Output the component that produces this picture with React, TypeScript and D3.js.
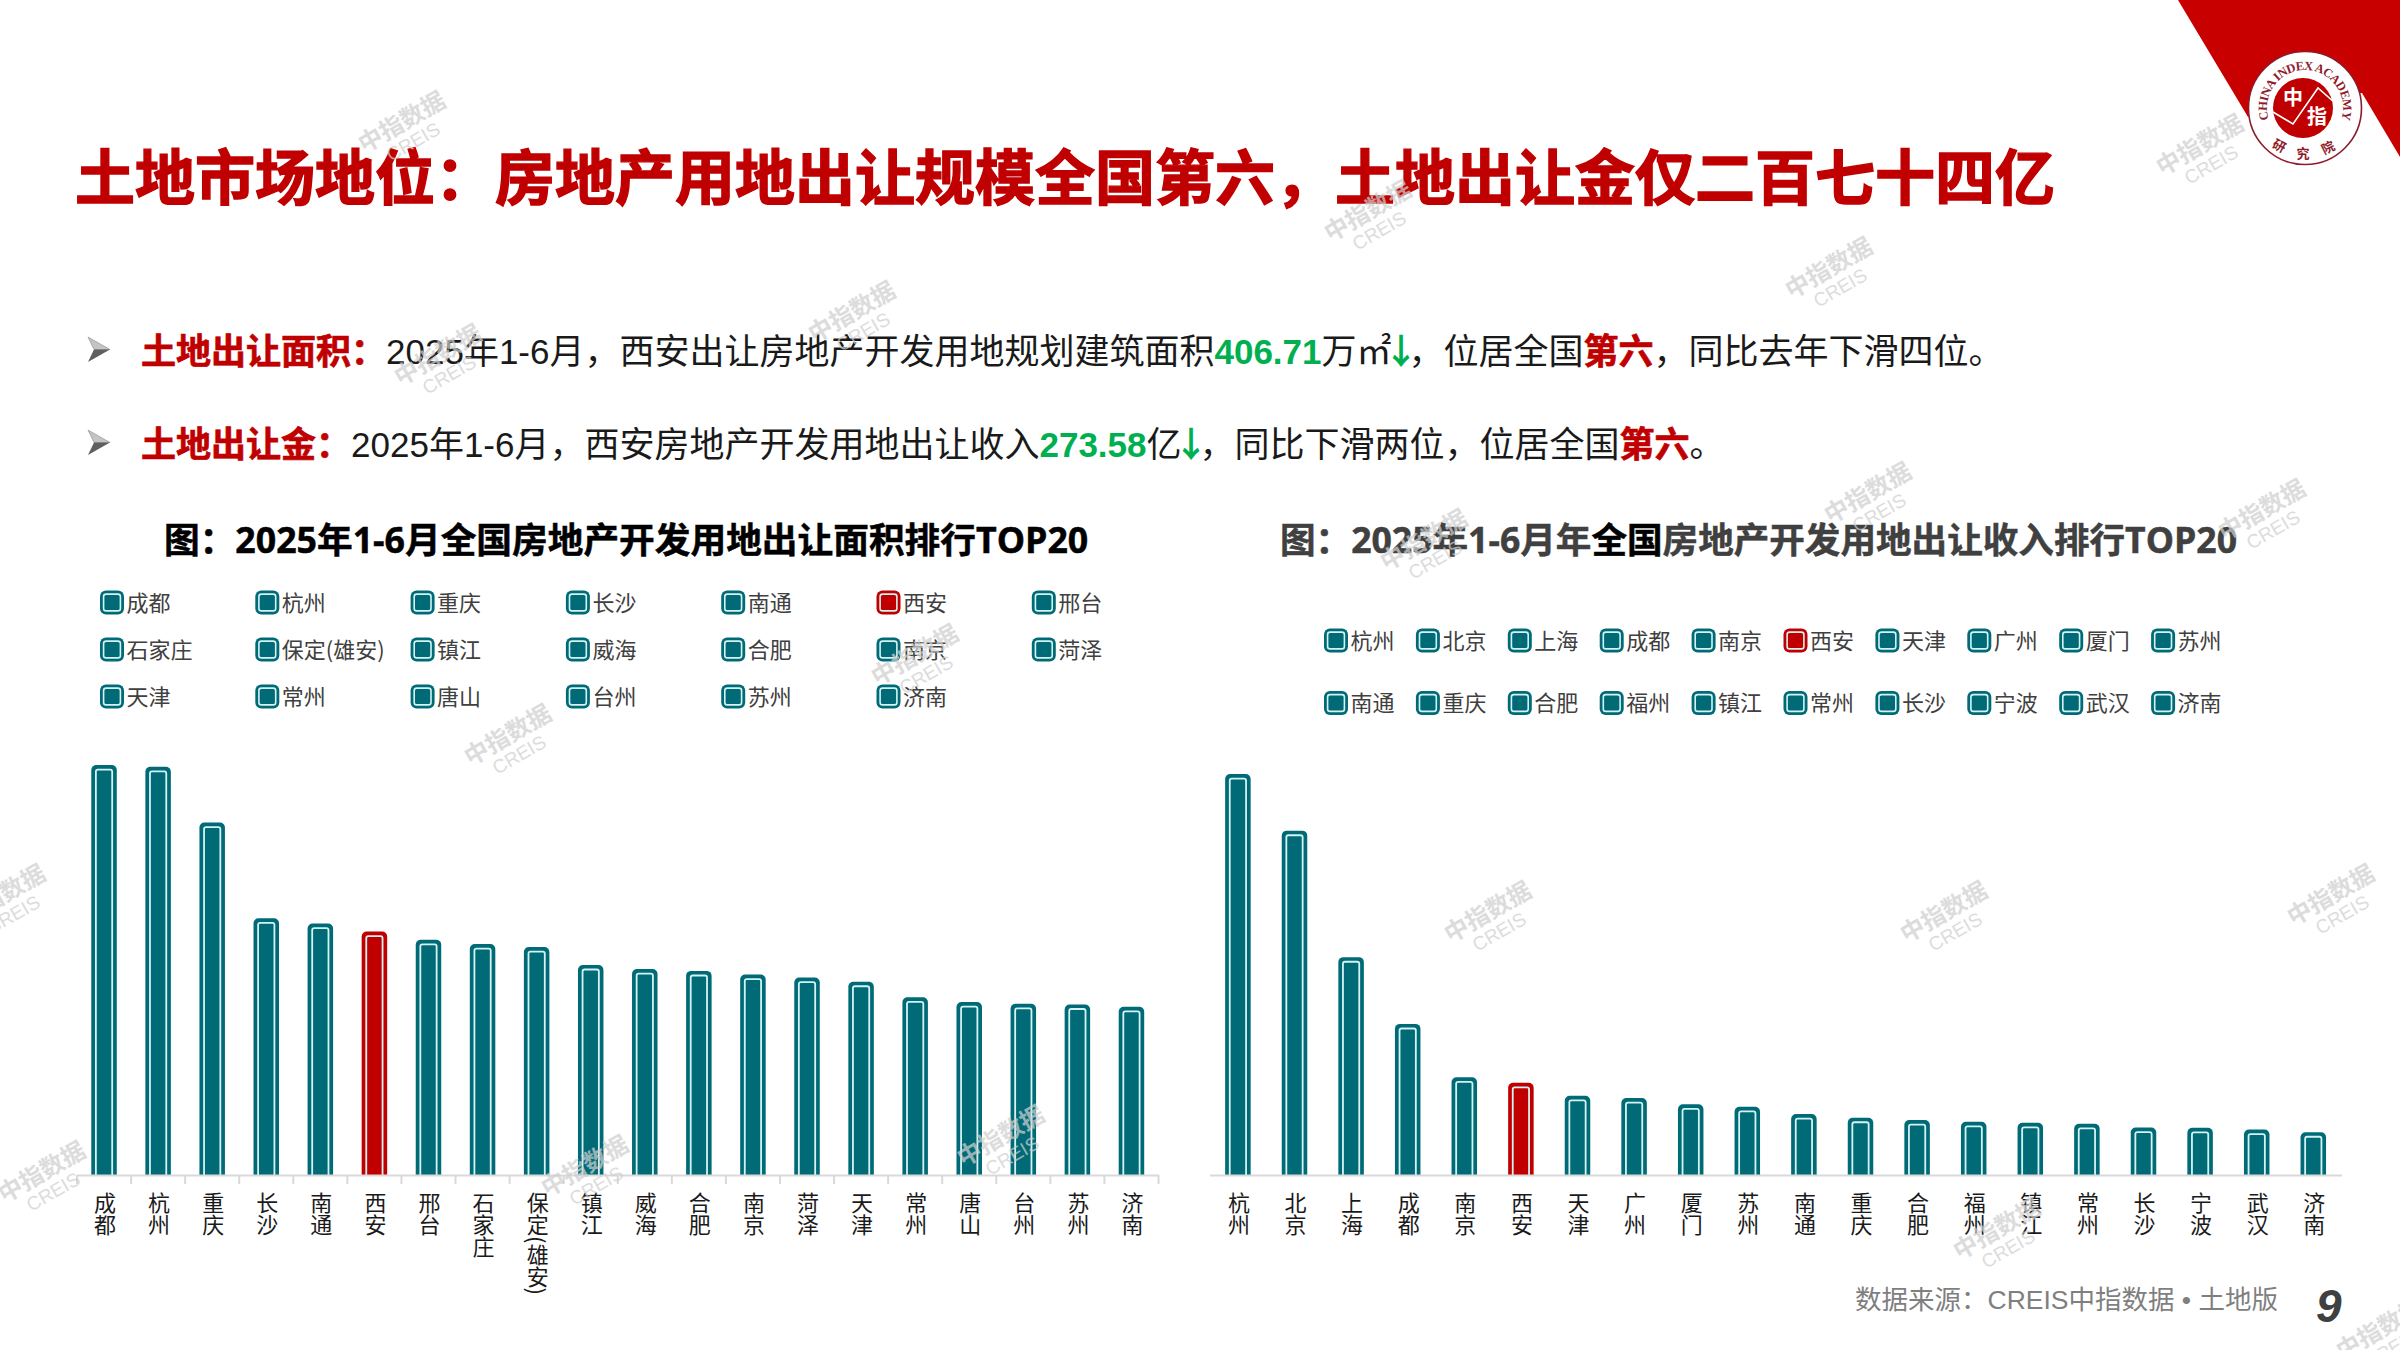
import { useEffect, useRef } from "react";
import * as d3 from "d3";

// 图1：土地出让面积（万㎡），西安 406.71 为原文数值，其余按柱高估读
const areaCities = ["成都", "杭州", "重庆", "长沙", "南通", "西安", "邢台", "石家庄", "保定(雄安)", "镇江", "威海", "合肥", "南京", "菏泽", "天津", "常州", "唐山", "台州", "苏州", "济南"];
const areaValues = [685, 682, 589, 429, 420, 406.71, 393, 386, 381, 351, 344, 341, 335, 330, 323, 297, 289, 286, 285, 281];

// 图2：土地出让收入（亿元），西安 273.58 为原文数值
const incomeCities = ["杭州", "北京", "上海", "成都", "南京", "西安", "天津", "广州", "厦门", "苏州", "南通", "重庆", "合肥", "福州", "镇江", "常州", "长沙", "宁波", "武汉", "济南"];
const incomeValues = [1189, 1021, 646, 448, 290, 273.58, 235, 228, 210, 202, 181, 170, 163, 158, 155, 152, 141, 140, 135, 127];

const TEAL = "#006B77";
const RED = "#C00000";
const LIGHT = "#D5F3F3";
const CN = "'Noto Sans CJK SC', sans-serif";
const MIX = "'Liberation Sans', 'Noto Sans CJK SC', sans-serif";
const HEAD = "'Open Sans', 'Noto Sans CJK SC', sans-serif";

const marks: [number, number][] = [
  [402, 122], [1368, 211], [1829, 268], [852, 312], [438, 355], [2200, 145], [1868, 493], [2262, 510],
  [1424, 540], [915, 655], [508, 735], [1488, 912], [1944, 912], [2331, 895], [2, 895], [42, 1172],
  [585, 1166], [1001, 1136], [1997, 1229], [2380, 1329],
];

function barPath(x: number, y: number, w: number, base: number, r: number) {
  const p = d3.path();
  p.moveTo(x, base);
  p.lineTo(x, y + r);
  p.arcTo(x, y, x + r, y, r);
  p.lineTo(x + w - r, y);
  p.arcTo(x + w, y, x + w, y + r, r);
  p.lineTo(x + w, base);
  return p.toString();
}

function BarPanel({ cities, values, x0, x1, top, base, barW, ticks }: any) {
  const axisRef = useRef<SVGGElement>(null);
  const x = d3.scaleBand<string>().domain(cities).range([x0, x1]);
  const y = d3.scaleLinear().domain([0, d3.max(values) as number]).range([base, top]);

  useEffect(() => {
    const g = d3.select(axisRef.current);
    g.selectAll("*").remove();
    g.call(d3.axisBottom(x).tickSize(0).tickPadding(0) as any);
    g.attr("font-family", CN).attr("font-size", null);
    g.select(".domain").attr("stroke", "#D9D9D9").attr("stroke-width", 2);
    g.selectAll("text")
      .attr("y", 17)
      .attr("dy", null)
      .attr("x", 1)
      .attr("text-anchor", "start")
      .attr("fill", "#1a1a1a")
      .attr("font-size", 22)
      .style("writing-mode", "vertical-rl");
    if (ticks) {
      g.selectAll("line.sep")
        .data(d3.range(cities.length + 1))
        .enter()
        .append("line")
        .attr("class", "sep")
        .attr("x1", (i: number) => x0 + i * x.step())
        .attr("x2", (i: number) => x0 + i * x.step())
        .attr("y2", 9)
        .attr("stroke", "#D9D9D9")
        .attr("stroke-width", 2);
    }
  }, []);

  return (
    <g>
      {cities.map((c: string, i: number) => {
        const bx = (x(c) as number) + (x.bandwidth() - barW) / 2;
        const by = y(values[i]);
        const fill = c === "西安" ? RED : TEAL;
        return (
          <g key={c}>
            <path d={barPath(bx, by, barW, base, 5)} fill={fill} />
            <path d={barPath(bx + 4.6, by + 4.6, barW - 9.2, base, 2)} fill="none" stroke={LIGHT} strokeWidth={1.8} />
          </g>
        );
      })}
      <g ref={axisRef} transform={`translate(0,${base})`} />
    </g>
  );
}

function Legend({ cities, left, top, stepX, stepY, perRow }: any) {
  return (
    <g fontFamily={CN} fontSize={22} fill="#404040">
      {cities.map((c: string, i: number) => {
        const lx = left + (i % perRow) * stepX;
        const ly = top + Math.floor(i / perRow) * stepY;
        return (
          <g key={c}>
            <rect x={lx} y={ly - 12} width={24} height={24} rx={6} fill={c === "西安" ? RED : TEAL} />
            <rect x={lx + 3.6} y={ly - 8.4} width={16.8} height={16.8} rx={2.5} fill="none" stroke={LIGHT} strokeWidth={1.6} />
            <text x={lx + 26.5} y={ly + 8}>{c}</text>
          </g>
        );
      })}
    </g>
  );
}

function Bullet({ y }: { y: number }) {
  return (
    <g>
      <polygon points={`88,${y} 110,${y + 12.5} 94,${y + 12.5}`} fill="#C4C4C4" stroke="#8a8a8a" strokeWidth={0.6} />
      <polygon points={`88,${y + 25} 110,${y + 12.5} 94,${y + 12.5}`} fill="#5F5F5F" />
    </g>
  );
}

const logoChars: [string, number, number, number][] = [
  ["研", 2277, 150, 28],
  ["究", 2303, 158, 0],
  ["院", 2330, 152, -26],
];

function Logo() {
  return (
    <g>
      <polygon points="2178,0 2400,0 2400,157 2362,93 2305,100 2248,117" fill="#C90000" />
      <circle cx={2305} cy={108} r={56.5} fill="#FFFFFF" stroke="#8E1B2B" strokeWidth={1.6} />
      <circle cx={2303} cy={108} r={30} fill="#C00000" />
      <defs>
        <path id="logoTop" d="M 2268.7 119.3 A 38 38 0 1 1 2341.2 119.6" />
      </defs>
      <text fontFamily="'Liberation Serif', serif" fontWeight="bold" fontSize={12.5} fill="#8E1B2B">
        <textPath href="#logoTop" textLength={142} lengthAdjust="spacing">CHINA INDEX ACADEMY</textPath>
      </text>
      {logoChars.map(([ch, lx, ly, a]) => (
        <text key={ch} transform={`translate(${lx},${ly}) rotate(${a})`} textAnchor="middle" fontFamily={CN} fontWeight="bold" fontSize={13} fill="#8E1B2B">{ch}</text>
      ))}
      <text x={2293} y={105} textAnchor="middle" fontFamily={CN} fontWeight="bold" fontSize={20} fill="#FFFFFF">中</text>
      <text x={2317} y={124} textAnchor="middle" fontFamily={CN} fontWeight="bold" fontSize={20} fill="#FFFFFF">指</text>
      <polyline points="2273,112 2293,124 2318,88 2335,103" fill="none" stroke="#FFFFFF" strokeWidth={1.6} />
    </g>
  );
}

export default function App() {
  return (
    <svg width={2400} height={1350} viewBox="0 0 2400 1350" style={{ position: "absolute", left: 0, top: 0, display: "block", background: "#fff" }}>
      <Logo />
      <text x={75} y={200} fontFamily={CN} fontWeight="bold" fontSize={60} fill={RED} stroke={RED} strokeWidth={1.4}>
        土地市场地位：房地产用地出让规模全国第六，土地出让金仅二百七十四亿
      </text>

      <Bullet y={337} />
      <text x={141} y={363.5} fontFamily={MIX} fontSize={35} fill="#1a1a1a">
        <tspan fontFamily={CN} fontWeight="bold" fill={RED} stroke={RED} strokeWidth={0.7}>土地出让面积：</tspan>
        2025年1-6月，西安出让房地产开发用地规划建筑面积
        <tspan fontWeight="bold" fill="#00B050">406.71</tspan>
        万㎡
        <tspan fontFamily={CN} fontWeight="bold" fill="#00B050" dx={-8}>↓</tspan>
        <tspan dx={-10}>，位居全国</tspan>
        <tspan fontFamily={CN} fontWeight="bold" fill={RED} stroke={RED} strokeWidth={0.7}>第六</tspan>
        ，同比去年下滑四位。
      </text>
      <Bullet y={430} />
      <text x={141} y={456.5} fontFamily={MIX} fontSize={35} fill="#1a1a1a">
        <tspan fontFamily={CN} fontWeight="bold" fill={RED} stroke={RED} strokeWidth={0.7}>土地出让金：</tspan>
        2025年1-6月，西安房地产开发用地出让收入
        <tspan fontWeight="bold" fill="#00B050">273.58</tspan>
        亿
        <tspan fontFamily={CN} fontWeight="bold" fill="#00B050" dx={-8}>↓</tspan>
        <tspan dx={-9}>，同比下滑两位，位居全国</tspan>
        <tspan fontFamily={CN} fontWeight="bold" fill={RED} stroke={RED} strokeWidth={0.7}>第六</tspan>
        。
      </text>

      <text x={164} y={553} fontFamily={HEAD} fontWeight="bold" fontSize={35.7} fill="#000" stroke="#000" strokeWidth={0.5}>
        图：2025年1-6月全国房地产开发用地出让面积排行TOP20
      </text>
      <text x={1280} y={553} fontFamily={HEAD} fontWeight="bold" fontSize={35.6} fill="#404040" stroke="#404040" strokeWidth={0.5}>
        图：2025年1-6月年<tspan fill="#000" stroke="#000">全国</tspan>房地产开发用地出让收入排行TOP20
      </text>

      <Legend cities={areaCities} left={100} top={602.5} stepX={155.3} stepY={47} perRow={7} />
      <Legend cities={incomeCities} left={1324} top={640.5} stepX={91.9} stepY={62.5} perRow={10} />

      <BarPanel cities={areaCities} values={areaValues} x0={77} x1={1158.5} top={765} base={1175} barW={25.5} ticks />
      <BarPanel cities={incomeCities} values={incomeValues} x0={1209.6} x1={2341.6} top={774} base={1175} barW={25.5} ticks={false} />

      <text x={1855} y={1309} fontFamily={MIX} fontSize={26.5} fill="#7F7F7F">数据来源：CREIS中指数据 • 土地版</text>
      <text x={2316} y={1322} fontFamily="'Liberation Sans', sans-serif" fontWeight="bold" fontStyle="italic" fontSize={46} fill="#404040">9</text>

      {marks.map(([mx, my], i) => (
        <g key={i} transform={`translate(${mx + 5},${my + 9}) rotate(-30)`} textAnchor="middle" fill="#CFCFCF" opacity={0.72}>
          <text y={-2} fontFamily={CN} fontWeight="bold" fontSize={24}>中指数据</text>
          <text y={19} fontFamily={MIX} fontSize={19}>CREIS</text>
        </g>
      ))}
    </svg>
  );
}
